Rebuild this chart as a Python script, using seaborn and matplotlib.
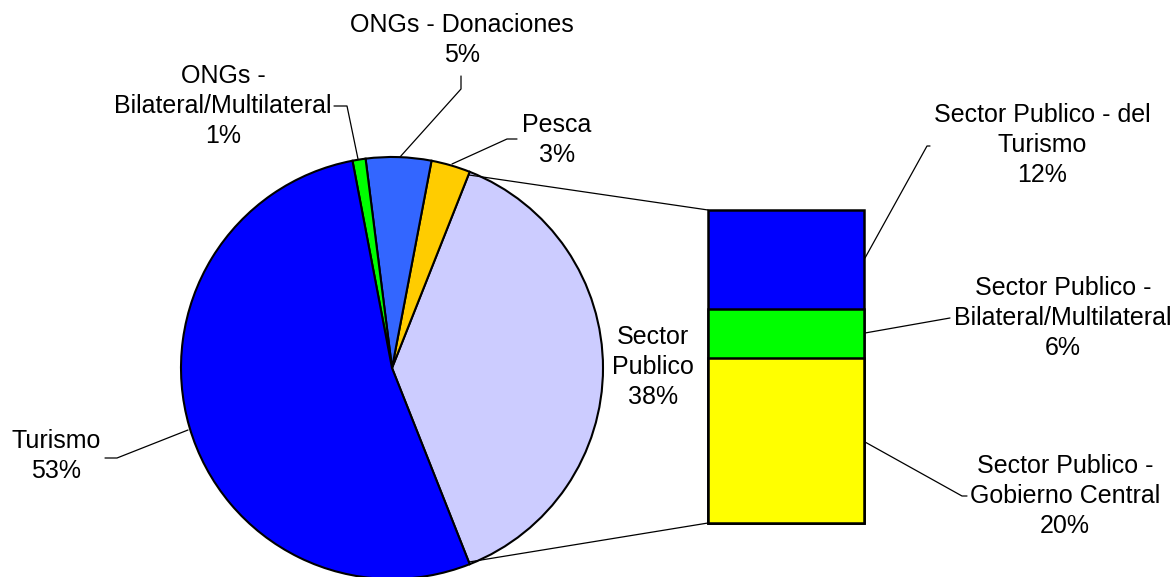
import matplotlib
matplotlib.use("Agg")
import matplotlib.pyplot as plt
import seaborn as sns
import pandas as pd

# ---- data ----
pie_labels = ["Sector\nPublico", "Pesca", "ONGs - Donaciones",
              "ONGs -\nBilateral/Multilateral", "Turismo"]
pie_values = [38, 3, 5, 1, 53]
pie_colors = ["#CCCCFF", "#FFCC00", "#3366FF", "#00FF00", "#0000FF"]

bar_labels = ["Sector Publico -\nGobierno Central",
              "Sector Publico -\nBilateral/Multilateral",
              "Sector Publico - del\nTurismo"]
bar_values = [20, 6, 12]
bar_colors = ["#FFFF00", "#00FF00", "#0000FF"]

# ---- figure ----
sns.set_theme(style="white")
plt.rcParams["font.family"] = ["Liberation Sans", "DejaVu Sans"]

W, H = 1173, 577
fig = plt.figure(figsize=(W / 100, H / 100), dpi=100)
fig.patch.set_facecolor("white")
ax = fig.add_axes([0, 0, 1, 1])


def P(x, y):
    return x, H - y


FS = 18
cx, cy = P(392, 368)
R = 211
start = -sum(pie_values[:1]) / 100 * 360 / 2
ax.pie(pie_values, colors=pie_colors, startangle=start, counterclock=True,
       center=(cx, cy), radius=R,
       wedgeprops=dict(edgecolor="black", linewidth=1.5))
ax.set_xlim(0, W)
ax.set_ylim(0, H)
ax.set_aspect("equal")
ax.axis("off")


def poly(pts):
    xs, ys = zip(*[P(*p) for p in pts])
    ax.plot(xs, ys, color="black", linewidth=0.9)


def lab(x, y, s):
    ax.text(*P(x, y), s, ha="center", va="center", fontsize=FS,
            color="black", linespacing=1.32)


# pie labels
lab(653, 367, f"{pie_labels[0]}\n{pie_values[0]}%")
lab(557, 140, f"{pie_labels[1]}\n{pie_values[1]}%")
poly([(452, 164), (507, 139), (517, 139)])
lab(462, 40, f"{pie_labels[2]}\n{pie_values[2]}%")
poly([(400, 157), (461, 89), (461, 76)])
lab(223, 106, f"{pie_labels[3]}\n{pie_values[3]}%")
poly([(358, 159), (347, 106), (334, 106)])
lab(56, 456, f"{pie_labels[4]}\n{pie_values[4]}%")
poly([(188, 430), (117, 458), (105, 458)])

# connector lines pie -> bar
poly([(469, 175), (708, 210)])
poly([(469, 562), (708, 523)])

# ---- stacked bar (cumulative overlap) ----
bx0, by0, bx1, by1 = 708, 210, 864, 523
bax = fig.add_axes([bx0 / W, (H - by1) / H, (bx1 - bx0) / W, (by1 - by0) / H])
cum = []
tot = 0
for v in bar_values:
    tot += v
    cum.append(tot)
for c, col in reversed(list(zip(cum, bar_colors))):
    df = pd.DataFrame({"k": ["a"], "v": [c]})
    sns.barplot(data=df, x="k", y="v", color=col, saturation=1, width=1.0,
                edgecolor="black", linewidth=1.8, ax=bax)
for p in bax.patches:
    p.set_clip_on(False)
bax.set_xlim(-0.5, 0.5)
bax.set_ylim(0, sum(bar_values))
bax.axis("off")

# bar labels
lab(1065, 496, f"{bar_labels[0]}\n{bar_values[0]}%")
poly([(865, 442), (962, 496), (967, 496)])
lab(1063, 318, f"{bar_labels[1]}\n{bar_values[1]}%")
poly([(865, 333), (950, 318)])
lab(1042, 145, f"{bar_labels[2]}\n{bar_values[2]}%")
poly([(865, 258), (927, 146), (930, 146)])

fig.savefig("out.png", dpi=100, facecolor="white")
